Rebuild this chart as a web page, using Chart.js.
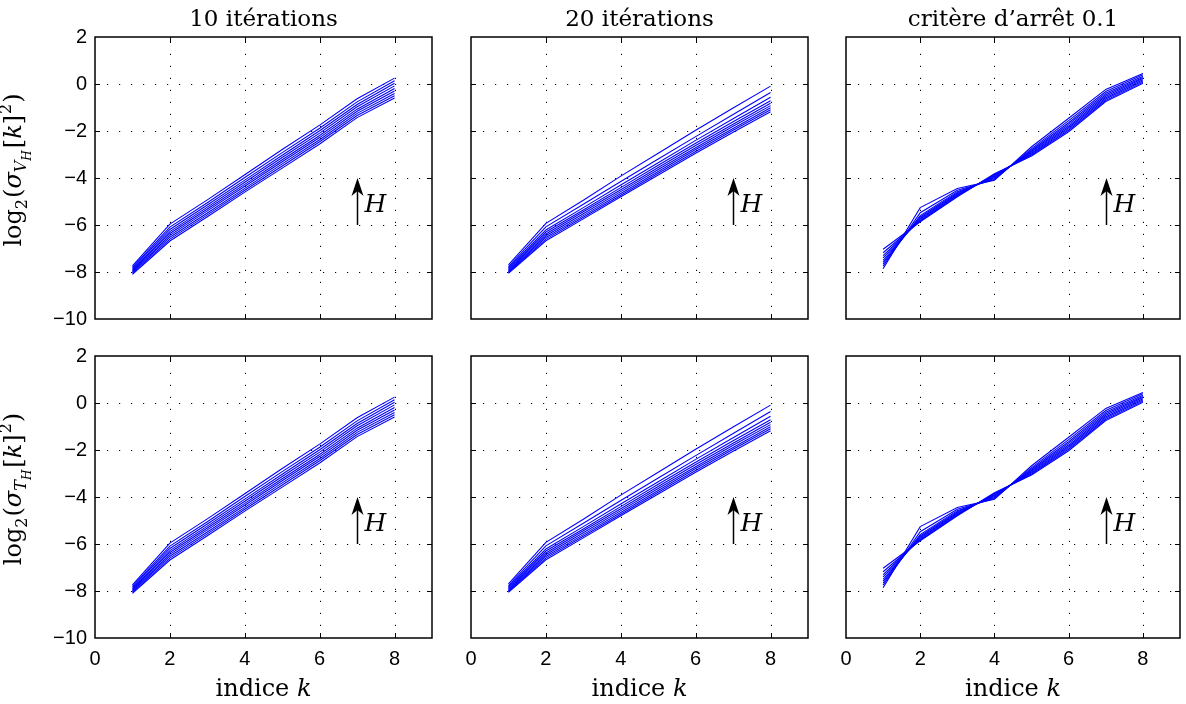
<!DOCTYPE html>
<html><head><meta charset="utf-8">
<script src="https://cdn.jsdelivr.net/npm/chart.js@4"></script>
<style>
html,body{margin:0;padding:0;background:#fff;overflow:hidden;width:1186px;height:704px;position:relative}
canvas{position:absolute}
</style></head><body>
<script>
// ---------- data ----------
const k = [1, 2, 3, 4, 5, 6, 7, 8];
const xTicks = [0, 2, 4, 6, 8];
const yTicks = [-10, -8, -6, -4, -2, 0, 2];
const titles = ['10 itérations', '20 itérations', 'critère d’arrêt 0.1'];
const xLabelText = 'indice ';
const xLabelVar = 'k';

// 10 iterations, one row per H (low H -> high H)
const iter10 = [
  [-8.10, -6.68, -5.65, -4.60, -3.58, -2.55, -1.43, -0.60],
  [-8.06, -6.60, -5.57, -4.52, -3.49, -2.46, -1.34, -0.50],
  [-8.02, -6.52, -5.49, -4.44, -3.40, -2.37, -1.25, -0.40],
  [-7.98, -6.44, -5.40, -4.35, -3.31, -2.28, -1.16, -0.30],
  [-7.94, -6.36, -5.32, -4.27, -3.22, -2.19, -1.07, -0.19],
  [-7.90, -6.28, -5.24, -4.18, -3.13, -2.09, -0.97, -0.08],
  [-7.85, -6.19, -5.15, -4.09, -3.03, -1.99, -0.87, 0.03],
  [-7.80, -6.09, -5.05, -3.98, -2.92, -1.88, -0.76, 0.14],
  [-7.74, -5.96, -4.93, -3.86, -2.79, -1.75, -0.63, 0.25]
];
// 20 iterations
const iter20 = [
  [-8.06, -6.67, -5.74, -4.80, -3.87, -2.95, -2.05, -1.18],
  [-8.03, -6.60, -5.67, -4.73, -3.80, -2.87, -1.97, -1.10],
  [-8.00, -6.53, -5.60, -4.66, -3.72, -2.79, -1.89, -1.01],
  [-7.96, -6.46, -5.52, -4.58, -3.64, -2.71, -1.80, -0.92],
  [-7.92, -6.38, -5.44, -4.50, -3.55, -2.62, -1.71, -0.82],
  [-7.88, -6.30, -5.36, -4.41, -3.46, -2.52, -1.61, -0.71],
  [-7.83, -6.21, -5.26, -4.30, -3.35, -2.40, -1.48, -0.56],
  [-7.77, -6.08, -5.12, -4.15, -3.19, -2.24, -1.30, -0.36],
  [-7.70, -5.93, -4.95, -3.92, -2.95, -1.97, -1.02, -0.09]
];
// stopping criterion 0.1
const crit01 = [
  [-7.03, -5.86, -4.80, -3.82, -3.06, -2.03, -0.75, 0.03],
  [-7.18, -5.83, -4.77, -3.85, -3.02, -1.97, -0.70, 0.08],
  [-7.30, -5.79, -4.74, -3.88, -2.98, -1.91, -0.64, 0.13],
  [-7.40, -5.75, -4.71, -3.91, -2.94, -1.85, -0.58, 0.18],
  [-7.50, -5.71, -4.67, -3.94, -2.90, -1.79, -0.52, 0.23],
  [-7.58, -5.66, -4.63, -3.98, -2.86, -1.72, -0.46, 0.28],
  [-7.66, -5.60, -4.58, -4.02, -2.81, -1.65, -0.39, 0.33],
  [-7.75, -5.48, -4.52, -4.06, -2.75, -1.56, -0.32, 0.39],
  [-7.86, -5.26, -4.45, -4.10, -2.67, -1.46, -0.23, 0.45]
];
// rows: sigma_{V_H} (top) and sigma_{T_H} (bottom)
const rowVH = [iter10, iter20, crit01];
const rowTH = [iter10, iter20, crit01];
const rowSymbols = ['V', 'T'];

// annotation arrow (data units)
const arrowK = 7, arrowFrom = -6, arrowTo = -4, arrowLabelY = -5, arrowLabel = 'H';

// ---------- layout ----------
const PL = [95, 471, 846], PR = [432, 808, 1180], PT = [37, 356], PH = 282;
const ML = 95, MR = 6, MT = 37, MB = 66;
const SERIF = '"DejaVu Serif", "Liberation Serif", serif';
const SANS = '"Liberation Sans", Arial, sans-serif';

function fmtTick(v) { return v < 0 ? '\u2212' + Math.abs(v) : String(v); }

function drawRich(ctx, pieces, cx, cy, rotate) {
  ctx.save();
  ctx.translate(cx, cy);
  if (rotate) ctx.rotate(-Math.PI / 2);
  ctx.textAlign = 'left'; ctx.textBaseline = 'alphabetic'; ctx.fillStyle = '#000';
  const fontOf = p => (p.italic ? 'italic ' : '') + p.size + 'px ' + SERIF;
  const widths = pieces.map(p => { ctx.font = fontOf(p); return ctx.measureText(p.t).width + (p.gap || 0); });
  const total = widths.reduce((a, b) => a + b, 0);
  let u = -total / 2;
  pieces.forEach((p, i) => { ctx.font = fontOf(p); ctx.fillText(p.t, u, p.dy || 0); u += widths[i]; });
  ctx.restore();
}

const decor = {
  id: 'decor',
  beforeDatasetsDraw(chart, args, o) {
    const { ctx, chartArea: a } = chart; const x = chart.scales.x, y = chart.scales.y;
    ctx.save();
    ctx.strokeStyle = '#000'; ctx.lineWidth = 1; ctx.setLineDash([1.2, 10.8]); ctx.lineCap = 'butt';
    xTicks.filter(v => v > x.min && v < x.max).forEach(v => {
      const p = Math.round(x.getPixelForValue(v)) + 0.5;
      ctx.beginPath(); ctx.moveTo(p, a.bottom); ctx.lineTo(p, a.top); ctx.stroke();
    });
    yTicks.filter(v => v > y.min && v < y.max).forEach(v => {
      const p = Math.round(y.getPixelForValue(v)) + 0.5;
      ctx.beginPath(); ctx.moveTo(a.left, p); ctx.lineTo(a.right, p); ctx.stroke();
    });
    ctx.restore();
  },
  afterDatasetsDraw(chart, args, o) {
    const { ctx, chartArea: a } = chart; const x = chart.scales.x, y = chart.scales.y;
    ctx.save();
    // frame
    ctx.strokeStyle = '#000'; ctx.lineWidth = 1.5;
    const L = Math.round(a.left), R = Math.round(a.right), T = Math.round(a.top), B = Math.round(a.bottom);
    ctx.strokeRect(L, T, R - L, B - T);
    // inward ticks on all sides
    ctx.lineWidth = 1;
    xTicks.filter(v => v > x.min && v < x.max).forEach(v => {
      const p = Math.round(x.getPixelForValue(v)) + 0.5;
      ctx.beginPath(); ctx.moveTo(p, B); ctx.lineTo(p, B - 5); ctx.moveTo(p, T); ctx.lineTo(p, T + 5); ctx.stroke();
    });
    yTicks.filter(v => v > y.min && v < y.max).forEach(v => {
      const p = Math.round(y.getPixelForValue(v)) + 0.5;
      ctx.beginPath(); ctx.moveTo(L, p); ctx.lineTo(L + 5, p); ctx.moveTo(R, p); ctx.lineTo(R - 5, p); ctx.stroke();
    });
    // arrow annotation
    const ax = Math.round(x.getPixelForValue(arrowK)) + 0.5;
    const y0 = y.getPixelForValue(arrowFrom), y1 = y.getPixelForValue(arrowTo);
    ctx.lineWidth = 1.5;
    ctx.beginPath(); ctx.moveTo(ax, y0); ctx.lineTo(ax, y1 + 10); ctx.stroke();
    ctx.fillStyle = '#000';
    ctx.beginPath(); ctx.moveTo(ax, y1); ctx.lineTo(ax + 6, y1 + 18); ctx.lineTo(ax, y1 + 13); ctx.lineTo(ax - 6, y1 + 18); ctx.closePath(); ctx.fill();
    ctx.font = 'italic 25px ' + SERIF; ctx.textAlign = 'left'; ctx.textBaseline = 'alphabetic';
    ctx.fillText(arrowLabel, ax + 7, y.getPixelForValue(arrowLabelY) + 10);
    // title
    if (o.row === 0) {
      ctx.font = '23px ' + SERIF; ctx.textAlign = 'center';
      ctx.fillText(titles[o.col], (a.left + a.right) / 2, a.top - 11);
    }
    ctx.restore();
    // x label
    if (o.row === 1) {
      drawRich(ctx, [
        { t: xLabelText, size: 24 },
        { t: xLabelVar, size: 24, italic: true }
      ], (a.left + a.right) / 2, a.bottom + 58, false);
    }
    // y label
    if (o.col === 0) {
      const S = 24, s1 = 16, s2 = 12;
      drawRich(ctx, [
        { t: 'log', size: S },
        { t: '2', size: s1, dy: 6, gap: 1 },
        { t: '(', size: S },
        { t: 'σ', size: S, italic: true },
        { t: rowSymbols[o.row], size: s1, italic: true, dy: 5 },
        { t: 'H', size: s2, italic: true, dy: 10, gap: 2 },
        { t: '[', size: S },
        { t: 'k', size: S, italic: true },
        { t: ']', size: S, gap: 1 },
        { t: '2', size: s1, dy: -10, gap: 1 },
        { t: ')', size: S }
      ], 21, (a.top + a.bottom) / 2 - 8, true);
    }
  }
};

const rows = [rowVH, rowTH];
for (let r = 0; r < 2; r++) {
  for (let c = 0; c < 3; c++) {
    const cv = document.createElement('canvas');
    const w = PR[c] - PL[c] + ML + MR, h = MT + PH + MB;
    cv.width = w; cv.height = h;
    cv.style.left = (PL[c] - ML) + 'px'; cv.style.top = (PT[r] - MT) + 'px';
    cv.style.width = w + 'px'; cv.style.height = h + 'px';
    document.body.appendChild(cv);
    const series = rows[r][c];
    new Chart(cv, {
      type: 'line',
      data: {
        datasets: series.map(s => ({
          data: k.map((kk, i) => ({ x: kk, y: s[i] })),
          borderColor: '#0000ff', borderWidth: 1.1, pointRadius: 0, tension: 0, fill: false
        }))
      },
      options: {
        responsive: false, animation: false, devicePixelRatio: 1,
        layout: { padding: { left: 0, right: MR, top: MT, bottom: 0 } },
        plugins: { legend: { display: false }, tooltip: { enabled: false }, decor: { row: r, col: c } },
        scales: {
          x: {
            type: 'linear', min: 0, max: 9,
            afterBuildTicks: s => { s.ticks = xTicks.map(v => ({ value: v })); },
            afterFit: s => { s.height = MB; },
            grid: { display: false, drawTicks: false }, border: { display: false },
            ticks: { color: r === 1 ? '#000' : 'rgba(0,0,0,0)', font: { family: SANS, size: 20 }, padding: 9,
                     maxRotation: 0, autoSkip: false, callback: fmtTick }
          },
          y: {
            type: 'linear', min: -10, max: 2,
            afterBuildTicks: s => { s.ticks = yTicks.map(v => ({ value: v })); },
            afterFit: s => { s.width = ML; },
            grid: { display: false, drawTicks: false }, border: { display: false },
            ticks: { color: c === 0 ? '#000' : 'rgba(0,0,0,0)', font: { family: SANS, size: 20 }, padding: 8,
                     autoSkip: false, callback: fmtTick }
          }
        }
      },
      plugins: [decor]
    });
  }
}
</script>
</body></html>
